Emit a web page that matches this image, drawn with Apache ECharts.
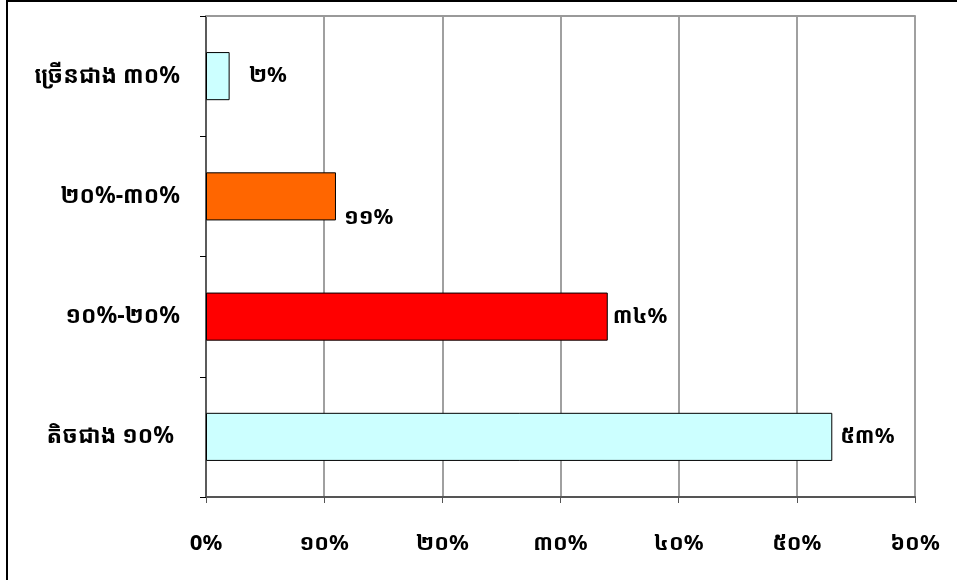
<!DOCTYPE html>
<html><head><meta charset="utf-8">
<script src="https://cdn.jsdelivr.net/npm/echarts@6/dist/echarts.min.js"></script>
<style>
html,body{margin:0;padding:0;background:#fff;overflow:hidden}
#frame{position:absolute;left:6px;top:0px;width:1000px;height:700px;border:2px solid #000;box-sizing:border-box}
#c{position:absolute;left:0;top:0;width:957px;height:580px}
</style></head>
<body><div id="frame"></div><div id="c"></div>
<script>
const categories = ['តិចជាង ១០% ', '១០%-២០%', '២០%-៣០%', 'ច្រើនជាង ៣០%'];
const values = [53, 34, 11, 2];
const valueLabels = ['៥៣%', '៣៤%', '១១%', '២%'];
const barColors = ['#CCFFFF', '#FF0000', '#FF6600', '#CCFFFF'];
const tickLabels = ['0%', '១០%', '២០%', '៣០%', '៤០%', '៥០%', '៦០%'];

const font = "'Noto Sans Khmer','Khmer OS','DejaVu Sans',sans-serif";
const labelOffsets = [[-2, 0], [-5, 0], [-2, 21], [9, 0]];
const chart = echarts.init(document.getElementById('c'));
chart.setOption({
  animation: false,
  grid: {left: 206, right: 42, top: 16, bottom: 83},
  xAxis: [{
    type: 'value', min: 0, max: 60, interval: 10,
    axisLine: {show: true, lineStyle: {color: '#555', width: 2}},
    axisTick: {show: true, length: 6, lineStyle: {color: '#555'}},
    splitLine: {show: true, lineStyle: {color: '#808080', width: 1.5}},
    axisLabel: {
      margin: 36, color: '#000', fontSize: 22, fontWeight: 'bold', fontFamily: font,
      formatter: v => tickLabels[Math.round(v / 10)]
    }
  }, {
    type: 'value', position: 'top', min: 0, max: 60, interval: 10,
    axisLine: {show: true, lineStyle: {color: '#999', width: 2}},
    axisTick: {show: false}, axisLabel: {show: false}, splitLine: {show: false}
  }],
  yAxis: {
    type: 'category', data: categories,
    axisLine: {show: true, lineStyle: {color: '#444', width: 1.5}},
    axisTick: {show: true, length: 6, lineStyle: {color: '#000'}},
    axisLabel: {margin: 26, color: '#000', fontSize: 23, fontWeight: 'bold', fontFamily: font}
  },
  series: [{
    type: 'bar', barWidth: '40%', xAxisIndex: 0,
    data: values.map((v, i) => ({
      value: v,
      itemStyle: {color: barColors[i], borderColor: '#000', borderWidth: 1},
      label: {offset: labelOffsets[i]}
    })),
    label: {
      show: true, position: 'right', distance: 10, color: '#000',
      fontSize: 22, fontWeight: 'bold', fontFamily: font,
      formatter: p => valueLabels[p.dataIndex]
    }
  }]
});
</script></body></html>
